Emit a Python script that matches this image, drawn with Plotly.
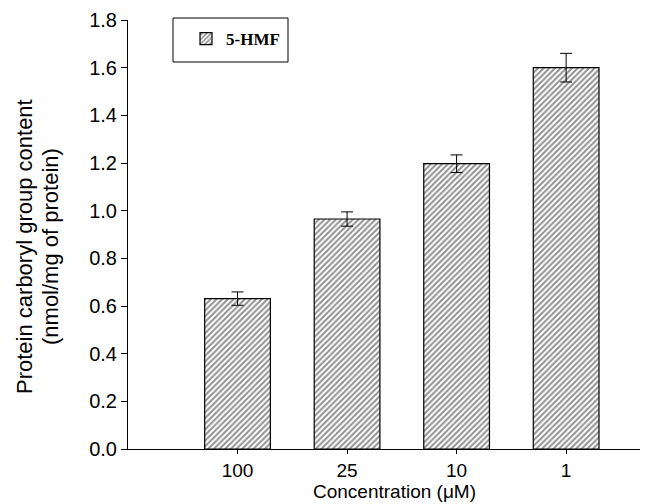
import plotly.graph_objects as go

categories = ["100", "25", "10", "1"]
values = [0.631, 0.965, 1.197, 1.60]
errors = [0.028, 0.030, 0.037, 0.060]
series_name = "5-HMF"
y_ticks = [0.0, 0.2, 0.4, 0.6, 0.8, 1.0, 1.2, 1.4, 1.6, 1.8]
x_title = "Concentration (\u03bcM)"
y_title_lines = ["Protein carboryl group content", "(nmol/mg of protein)"]

fig = go.Figure()
fig.add_trace(go.Bar(
    x=categories, y=values, name=series_name, width=0.6,
    marker=dict(color="white",
                line=dict(color="black", width=1.2),
                pattern=dict(shape="/", size=4, solidity=0.5,
                             fgcolor="#222222", bgcolor="white", fillmode="overlay")),
    error_y=dict(type="data", array=errors, visible=True, color="black",
                 thickness=1, width=6),
    showlegend=True,
))

# The page body adds an 8px offset; figure is sized to fill the rest of the window.
OFF = 8
W, H = 648 - OFF, 504 - OFF
# plot box in page pixels
PL, PR, PT, PB = 128, 645, 20, 449
ml, mt = PL - OFF, PT - OFF
mr = W - (PR - OFF)
mb = H - (PB - OFF)
pw, ph = PR - PL, PB - PT

def px(xp):
    return (xp - PL) / pw

def py(yp):
    return (PB - yp) / ph

annotations = [
    dict(text=x_title, xref="paper", yref="paper", x=px(394), y=py(503.5),
         xanchor="center", yanchor="bottom", showarrow=False,
         font=dict(size=19)),
]
for line_text, cx in zip(y_title_lines, [25, 51]):
    annotations.append(dict(text=line_text, xref="paper", yref="paper",
                            x=px(cx), y=py(247), xanchor="center", yanchor="middle",
                            showarrow=False, textangle=-90, font=dict(size=22)))

fig.update_layout(
    width=W, height=H,
    margin=dict(l=ml, r=mr, t=mt, b=mb, pad=0, autoexpand=False),
    paper_bgcolor="white", plot_bgcolor="white",
    font=dict(family="Liberation Sans, Arial, sans-serif", color="black", size=20),
    showlegend=True,
    legend=dict(x=px(186), xanchor="left", y=py(39), yanchor="middle",
                bgcolor="rgba(0,0,0,0)", borderwidth=0,
                font=dict(family="Liberation Serif, Times New Roman, serif",
                          size=17, color="black", weight="bold"),
                itemwidth=30),
    bargap=0.4,
    xaxis=dict(type="category", range=[-1, 3.72], automargin=False,
               showline=True, linecolor="black", linewidth=1,
               ticks="outside", ticklen=4, tickcolor="black", tickwidth=1,
               showgrid=False, zeroline=False,
               tickfont=dict(size=19)),
    yaxis=dict(range=[0, 1.8], tickvals=y_ticks, tickformat=".1f", automargin=False,
               showline=True, linecolor="black", linewidth=1,
               ticks="outside", ticklen=6, tickcolor="black", tickwidth=1,
               showgrid=False, zeroline=False,
               tickfont=dict(size=20)),
    annotations=annotations,
    shapes=[dict(type="rect", xref="paper", yref="paper",
                 x0=px(173), x1=px(288), y0=py(62), y1=py(18),
                 line=dict(color="black", width=1), fillcolor="rgba(0,0,0,0)")],
)

fig.write_html("out.html")
